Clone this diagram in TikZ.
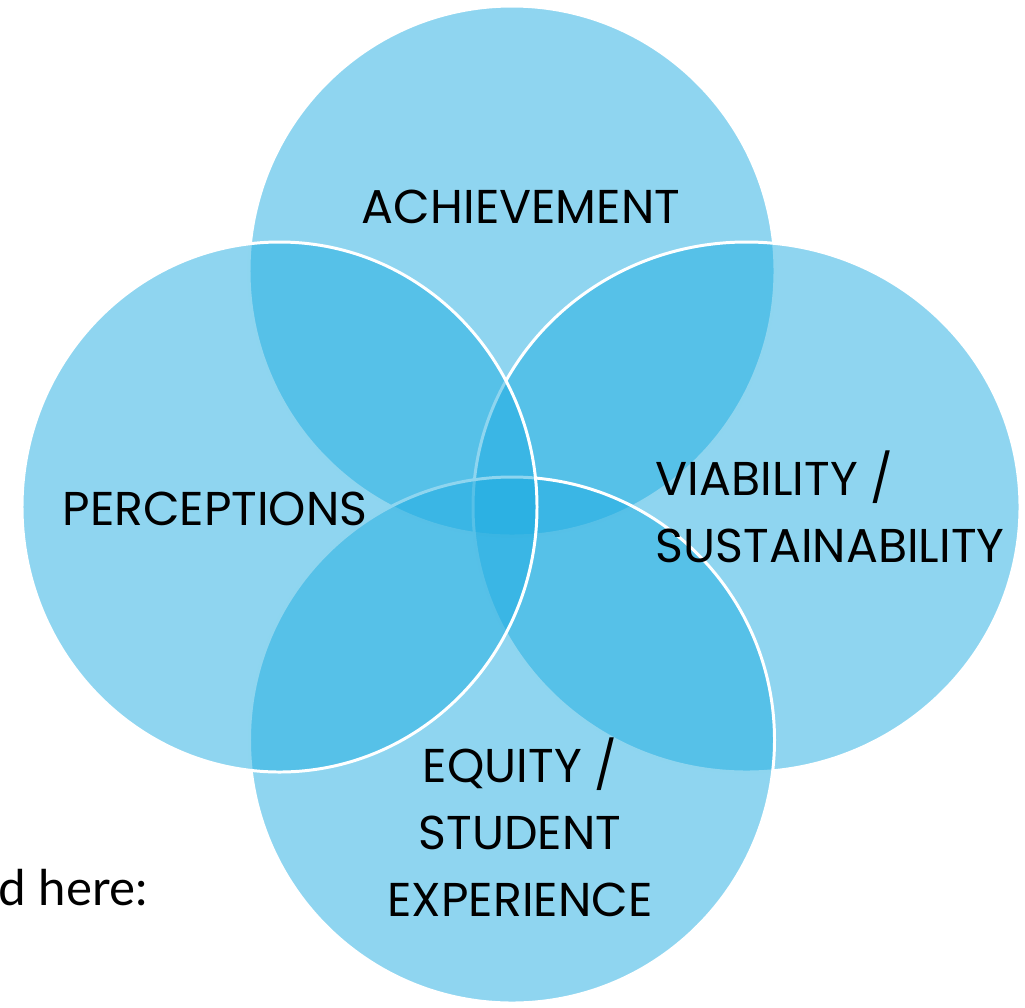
\documentclass[tikz,border=0pt]{standalone}
\usepackage{fontspec}
\setmainfont{Poppins}
\newfontfamily\notefont{Lato}
\definecolor{vennblue}{RGB}{31,172,225}
\tikzset{
    venn/.style={fill=vennblue, fill opacity=0.5, draw=white, line width=0.85pt},
    label/.style={inner sep=0pt, text=black, font=\fontsize{13.5}{19}\selectfont}
}
\begin{document}
\begin{tikzpicture}
        \useasboundingbox (0, 0) rectangle (10.25, -10.07);
        % top, right, bottom, left
        \foreach \cx/\cy/\rx/\ry in {5.12/-2.71/2.63/2.65, 7.465/-5.07/2.735/2.65,
                                     5.12/-7.40/2.625/2.63, 2.795/-5.07/2.575/2.65}
            \filldraw[venn] (\cx, \cy) ellipse [x radius=\rx, y radius=\ry];
        \node[label] (achievement) at (5.21, -2.07) {ACHIEVEMENT};
        \node[label] (perceptions) at (2.15, -5.09) {PERCEPTIONS};
        \node[label, anchor=west, align=left] (viability) at (6.55, -5.07)
            {VIABILITY /\\SUSTAINABILITY};
        \node[label, align=center] (equity) at (5.20, -8.27)
            {EQUITY /\\STUDENT\\EXPERIENCE};
        \node[inner sep=0pt, anchor=east, font=\notefont\fontsize{14}{16}\selectfont] (here) at (1.48, -8.88) {d here:};
    \end{tikzpicture}
\end{document}
